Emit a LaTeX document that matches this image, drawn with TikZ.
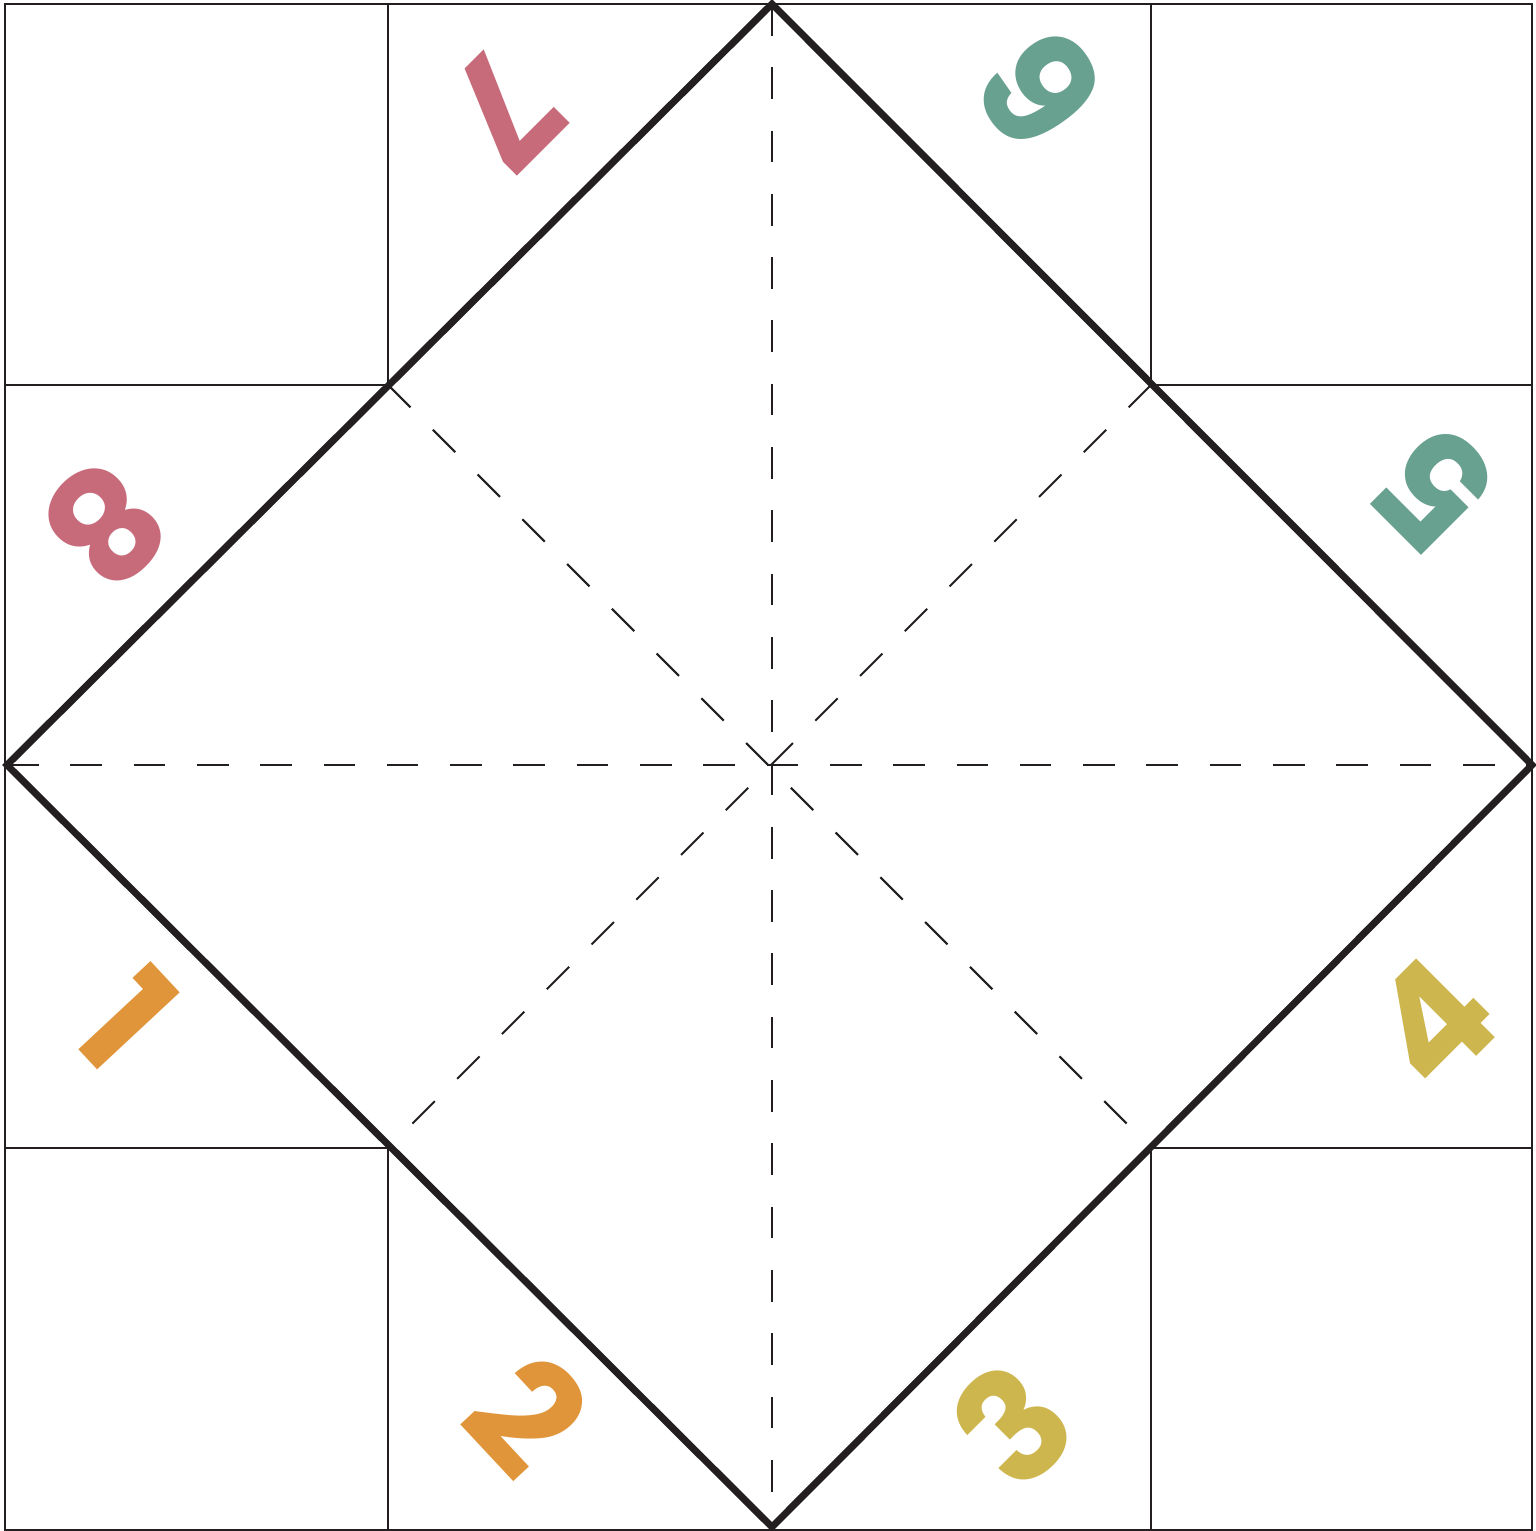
\documentclass[tikz,border=0pt]{standalone}
\usepackage{fontspec}
\newfontfamily\numfont{Poppins}
\usetikzlibrary{positioning}
\definecolor{ink}{HTML}{231F20}
\definecolor{rose}{HTML}{C76B7B}
\definecolor{sage}{HTML}{69A190}
\definecolor{amber}{HTML}{E1953A}
\definecolor{mustard}{HTML}{CDB64E}

\begin{document}
\begin{tikzpicture}[x=0.01cm,y=-0.01cm,
cut/.style={draw=ink, line width=0.6pt},
crease/.style={draw=ink, line width=0.6pt, dash pattern=on 9pt off 9pt},
edge/.style={draw=ink, line width=2pt, line join=miter},
num/.style={text=#1, inner sep=0pt, font=\numfont\bfseries\fontsize{44}{44}\selectfont},]
\useasboundingbox (0,0) rectangle (1536,1531);
\fill[white] (0,0) rectangle (1536,1531);

% outer sheet and grid points
\coordinate (NW) at (5,4);
\coordinate (SE) at (1532,1530);
\coordinate (a1) at (388,4);
\coordinate (a2) at (1151,4);
\coordinate (b1) at (5,385);
\coordinate (b2) at (388,385);
\coordinate (b3) at (1151,385);
\coordinate (b4) at (1532,385);
\coordinate (c1) at (5,1148);
\coordinate (c2) at (388,1148);
\coordinate (c3) at (1151,1148);
\coordinate (c4) at (1532,1148);
\coordinate (d1) at (388,1530);
\coordinate (d2) at (1151,1530);

% diamond corners
\coordinate (T) at (772,4);
\coordinate (R) at (1532,765);
\coordinate (B) at (772,1527);
\coordinate (L) at (7,765);
\coordinate (C) at (772,765);

\draw[cut] (NW) rectangle (SE);
\draw[cut] (a1) -- (b2) -- (b1);
\draw[cut] (a2) -- (b3) -- (b4);
\draw[cut] (c1) -- (c2) -- (d1);
\draw[cut] (c4) -- (c3) -- (d2);

\draw[crease] (T) -- (B);
\draw[crease] (L) -- (R);
\draw[crease] (b2) -- (c3);
\draw[crease] (b3) -- (c2);

\draw[edge] (T) -- (R) -- (B) -- (L) -- cycle;

% numbers
\node[num=amber, rotate=-47] (n1) at (127,1018) {1};
\node[num=amber, rotate=-47] (n2) at (528,1414) {2};
\node[num=mustard, rotate=45] (n3) at (1012,1425) {3};
\node[num=mustard, rotate=45] (n4) at (1432,1022) {4};
\node[num=sage, rotate=135] (n5) at (1436,490) {5};
\node[num=sage, rotate=125] (n6) at (1040,90) {6};
\node[num=rose, rotate=-135] (n7) at (504,110) {7};
\node[num=rose, rotate=-135] (n8) at (105,525) {8};
\end{tikzpicture}
\end{document}
